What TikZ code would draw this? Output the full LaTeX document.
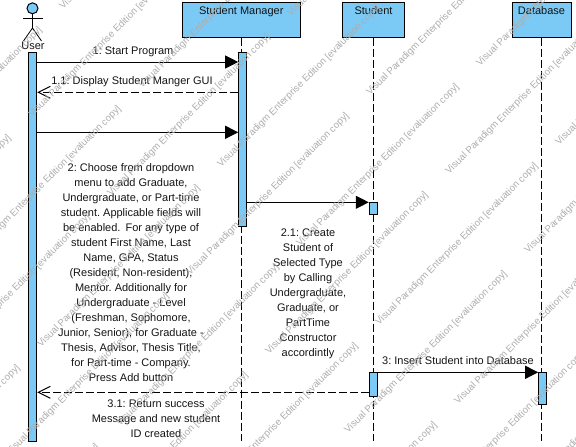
\documentclass[tikz,border=0pt]{standalone}
\usepackage{fontspec}
\setmainfont{Liberation Sans}
\usetikzlibrary{arrows.meta}
\definecolor{vpblue}{HTML}{7ACAF5}
\definecolor{wmgray}{gray}{0.68}
\newcommand{\wmtext}{Visual Paradigm Enterprise Edition [evaluation copy]}
\newcommand{\wmplace}[3]{%
  \pgfmathtruncatemacro{\wmx}{#2}%
  \pgfmathtruncatemacro{\wmy}{#3}%
  \pgfmathtruncatemacro{\wmshow}{(\wmx<576)&&(\wmx>-170)&&(\wmy>0)&&(\wmy<617)}%
  \ifnum\wmshow=1 \node[wm] (#1) at (\wmx,\wmy) {\wmtext};\fi}
\tikzset{
  objbox/.style={draw=black,fill=vpblue,line width=1pt,rectangle,inner sep=0pt,minimum width=#1,minimum height=35pt},
  activation/.style={draw=black,fill=vpblue,line width=1pt},
  lifeline/.style={draw=black,line width=1pt,dash pattern=on 8pt off 3pt},
  syncmsg/.style={draw=black,line width=1pt,-{Triangle[length=13pt,width=13pt]}},
  returnmsg/.style={draw=black,line width=1pt,dash pattern=on 8pt off 3pt,-{Straight Barb[length=12pt,width=12pt,line width=1pt]}},
  lbl/.style={inner sep=0pt,align=center,font=\fontsize{11}{15}\selectfont\frenchspacing,text=black!92},
  objname/.style={inner sep=0pt,anchor=base,font=\fontsize{11}{15}\selectfont,text=black!92},
  wm/.style={inner sep=0pt,anchor=base west,rotate=45,font=\fontsize{9.7}{12}\selectfont,text=wmgray}
}
\begin{document}
\begin{tikzpicture}[x=1pt,y=-1pt]
\useasboundingbox (0,0) rectangle (576,447);
% objects
\node[objbox=118pt] (sm) at (241.3,19.5) {};
\node[objbox=62.5pt] (st) at (373.5,19.5) {};
\node[objbox=59pt] (db) at (541.5,19.5) {};
\node[objname] (smn) at (241.3,14) {Student Manager};
\node[objname] (stn) at (373.5,14) {Student};
\node[objname] (dbn) at (541.5,14) {Database};
% actor
\node[draw=black,fill=vpblue,line width=1pt,circle,inner sep=0pt,minimum size=11pt] (head) at (32.5,8.3) {};
\coordinate (hip) at (32.5,28);
\coordinate (armL) at (23,18);
\coordinate (armR) at (43,18);
\coordinate (legL) at (23.5,41);
\coordinate (legR) at (41.5,41);
\draw[line width=.8pt] (head.south) -- (hip);
\draw[line width=.8pt] (armL) -- (armR);
\draw[line width=.8pt] (legL) -- (hip) -- (legR);
\node[objname] (usr) at (33,49) {User};
% lifeline ends
\coordinate (endS) at (373.5,441);
\coordinate (endD) at (541.5,441);
\coordinate (endM) at (241.3,441);
\draw[lifeline] (sm.south) -- (endM);
\draw[lifeline] (st.south) -- (endS);
\draw[lifeline] (db.south) -- (endD);
% activations
\node[activation,inner sep=0pt,minimum width=8pt,minimum height=389pt] (uA) at (32.7,246.5) {};
\node[activation,inner sep=0pt,minimum width=8pt,minimum height=174.7pt] (mA) at (242.7,139.35) {};
\node[activation,inner sep=0pt,minimum width=8pt,minimum height=12pt] (sA) at (373.3,208.3) {};
\node[activation,inner sep=0pt,minimum width=8pt,minimum height=24pt] (sB) at (373.3,384.3) {};
\node[activation,inner sep=0pt,minimum width=8pt,minimum height=32pt] (dA) at (542.7,388.3) {};
% message rows
\coordinate (r1) at (0,62);
\coordinate (r2) at (0,92.3);
\coordinate (r3) at (0,132.3);
\coordinate (r4) at (0,202.3);
\coordinate (r5) at (0,372.3);
\coordinate (r6) at (0,392.3);
\draw[syncmsg] (uA.east |- r1) -- (mA.west |- r1);
\draw[returnmsg] (mA.west |- r2) -- (uA.east |- r2);
\draw[syncmsg] (uA.east |- r3) -- (mA.west |- r3);
\draw[syncmsg] (mA.east |- r4) -- (sA.west |- r4);
\draw[syncmsg] (sB.east |- r5) -- (dA.west |- r5);
\draw[returnmsg] (sB.west |- r6) -- (uA.east |- r6);
% labels
\node[lbl,anchor=base] (l1) at (133,54) {1: Start Program};
\node[lbl,anchor=base] (l11) at (132,84) {1.1: Display Student Manger GUI};
\node[lbl,anchor=north] (l2) at (131,163.5) {2: Choose from dropdown\\menu to add Graduate,\\Undergraduate, or Part-time\\student. Applicable fields will\\be enabled.\hspace{2pt} For any type of\\student First Name, Last\\Name, GPA, Status\\(Resident, Non-resident),\\Mentor. Additionally for\\Undergraduate - Level\\(Freshman, Sophomore,\\Junior, Senior), for Graduate -\\Thesis, Advisor, Thesis Title,\\for Part-time - Company.\\Press Add button};
\node[lbl,anchor=north] (l21) at (308,228.5) {2.1: Create\\Student of\\Selected Type\\by Calling\\Undergraduate,\\Graduate, or\\PartTime\\Constructor\\accordintly};
\node[lbl,anchor=base] (l3) at (458,364) {3: Insert Student into Database};
\node[lbl,anchor=north] (l31) at (156,399.5) {3.1: Return success\\Message and new student\\ID created};
% watermark
\begin{scope}
\clip (0,0) rectangle (576,447);
\foreach \i in {-3,...,8}{\foreach \j in {-3,...,4}{
  \wmplace{wa\i\j}{63+79*\i+180*\j}{10+79*\i-180*\j}
  \wmplace{wb\i\j}{32+79*\i+180*\j}{118+79*\i-180*\j}
}}
\end{scope}
\end{tikzpicture}
\end{document}
